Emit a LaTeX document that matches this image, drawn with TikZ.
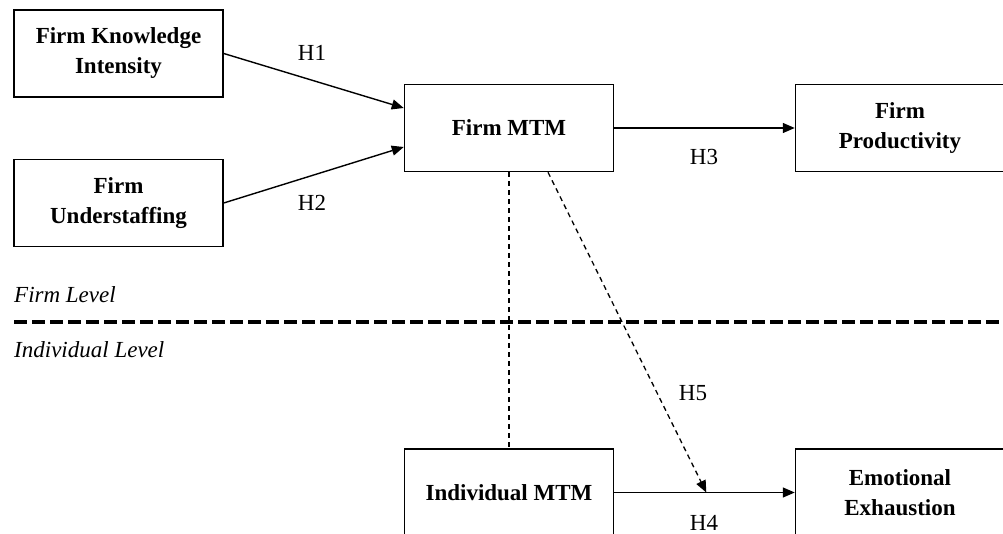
\documentclass[tikz,border=0pt]{standalone}
\usepackage{fontspec}
\setmainfont{Liberation Serif}
\usetikzlibrary{arrows.meta,calc}
\begin{document}
\begin{tikzpicture}[x=1pt,y=-1pt,
  box/.style={draw,line width=1.5pt,minimum width=209pt,minimum height=87pt,inner sep=0pt,align=center,font=\fontsize{23}{30}\selectfont\bfseries},
  lbl/.style={font=\fontsize{23}{28}\selectfont,inner sep=0pt},
  lvl/.style={font=\fontsize{23}{28}\selectfont\itshape,anchor=base west,inner sep=0pt},
  tip/.style={-{Triangle[length=12pt,width=10pt]}},
  arr/.style={line width=1.4pt,tip},
  dsh/.style={line width=1.3pt,dash pattern=on 5pt off 4pt},
  sep/.style={line width=4pt,dash pattern=on 13pt off 5pt}]
\useasboundingbox (0,0) rectangle (1003,534);
\clip (0,0) rectangle (1003,534);
% boxes
\node[box] (fki) at (118.5,53.5) {Firm Knowledge\\Intensity};
\node[box] (fu) at (118.5,203) {Firm\\Understaffing};
\node[box] (mtm) at (509,128) {Firm MTM};
\node[box] (fp) at (900,128) {Firm\\Productivity};
\node[box] (imtm) at (509,492.5) {Individual MTM};
\node[box] (ee) at (900,492.5) {Emotional\\Exhaustion};
% connectors
\draw[arr] (fki.east) -- ($(mtm.west)+(0,-20)$);
\draw[arr] (fu.east) -- ($(mtm.west)+(0,19)$);
\draw[arr] (mtm.east) -- (fp.west);
\draw[arr] (imtm.east) -- (ee.west);
\draw[dsh] (mtm.south) -- (imtm.north);
\coordinate (h5start) at ($(mtm.south)+(39,0)$);
\coordinate (h5end) at ($(imtm.east)!0.51!(ee.west)$);
\draw[dsh,tip] (h5start) -- (h5end);
% labels
\node[lbl] (h1) at (312,53) {H1};
\node[lbl] (h2) at (312,203) {H2};
\node[lbl] (h3) at (704,157) {H3};
\node[lbl] (h4) at (704,523) {H4};
\node[lbl] (h5) at (693,393) {H5};
% levels
\node[lvl] (fl) at (14,302) {Firm Level};
\node[lvl] (il) at (14,357) {Individual Level};
\coordinate (sepL) at (14,322);
\coordinate (sepR) at (1010,322);
\draw[sep] (sepL) -- (sepR);
\end{tikzpicture}
\end{document}
